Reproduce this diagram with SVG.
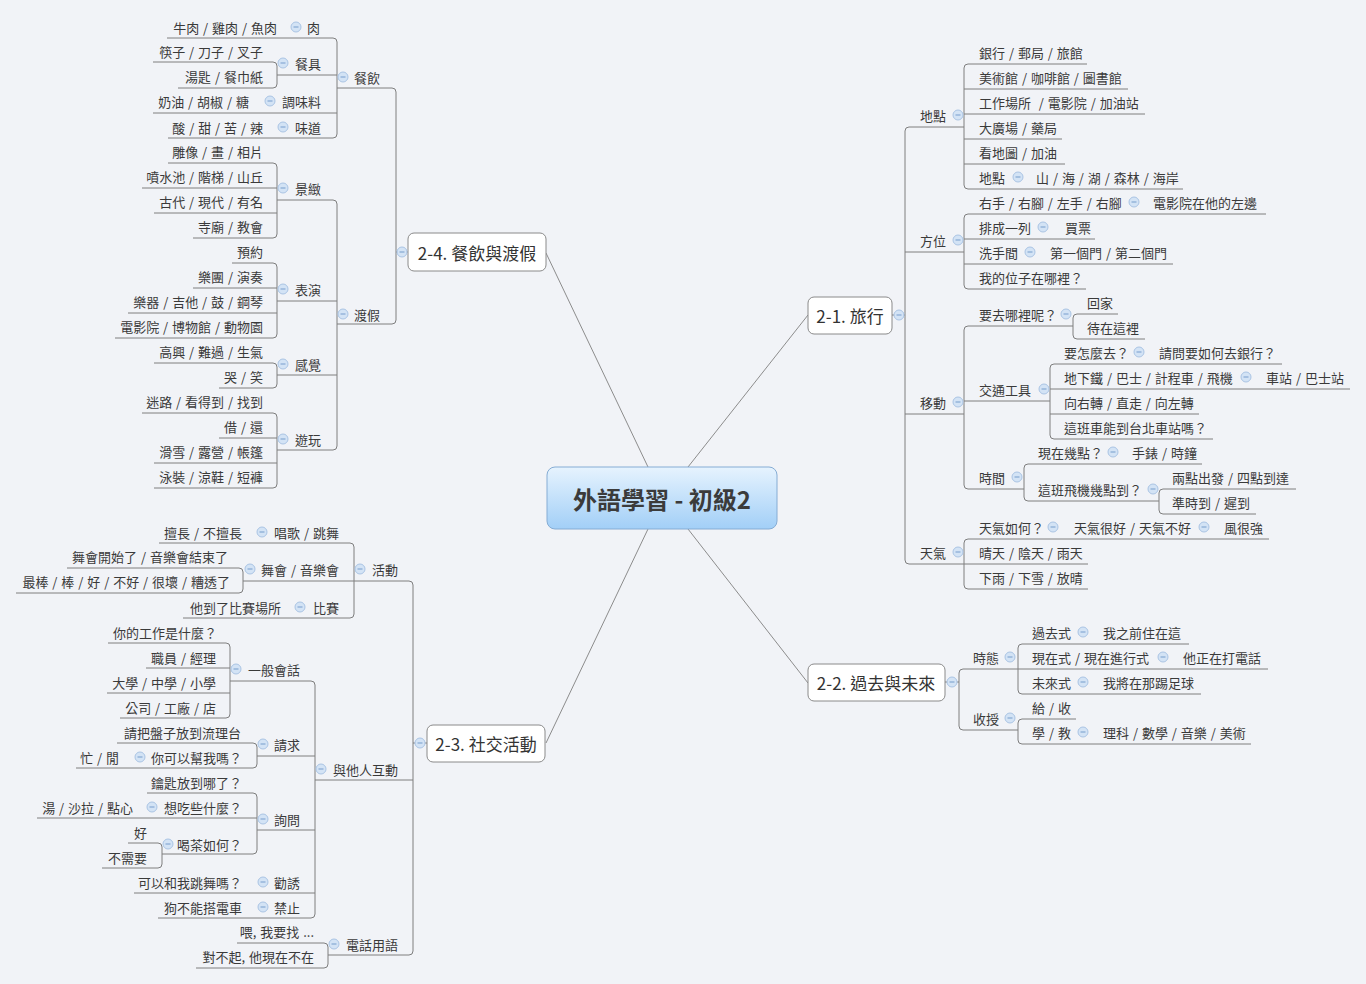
<svg xmlns="http://www.w3.org/2000/svg" xmlns:xlink="http://www.w3.org/1999/xlink" width="1366" height="984" viewBox="0 0 1366 984">
<style>
.t{font-family:"Noto Sans CJK TC","Noto Sans",sans-serif;font-size:13px;fill:#3a3a3a;dominant-baseline:central;word-spacing:1px}
.e{text-anchor:end}
.l1{font-size:17px;text-anchor:middle;fill:#333;word-spacing:0}
.ln{fill:none;stroke:#7e7e7e;stroke-width:1}
.cl{fill:none;stroke:#8c8c8c;stroke-width:1}
.box{fill:#fff;stroke:#8a8a8a;stroke-width:1}
</style>
<defs>
<linearGradient id="cg" x1="0" y1="0" x2="0" y2="1">
<stop offset="0" stop-color="#e6f3fe"/>
<stop offset="1" stop-color="#a2cff7"/>
</linearGradient>
<g id="cb"><circle r="5" fill="#d3e3f5" stroke="#aac4e4" stroke-width="1"/><path d="M-2.5 0H2.5" stroke="#86a8d3" stroke-width="1.2"/></g>
</defs>
<rect width="1366" height="984" fill="#f1f3f7"/>

<g id="connectors">
<path class="cl" d="M648,467L546,253M688,467L808,315M648,529L546,743M688,529L808,683"/>
<path class="ln" d="M964,127H909Q905,127 905,131V560Q905,564 909,564H964M905,252H964M905,414H964M892,315H905"/>
<path class="ln" d="M1087,64H968Q964,64 964,68V185Q964,189 968,189H1183M964,89H1128M964,114H1145M964,139H1062M964,164H1065"/>
<path class="ln" d="M1266,214H968Q964,214 964,218V285Q964,289 968,289H1086M964,239H1095M964,264H1173"/>
<path class="ln" d="M1073,326H968Q964,326 964,330V485Q964,489 968,489H1024M964,401H1050"/>
<path class="ln" d="M1118,314H1077Q1073,314 1073,318V335Q1073,339 1077,339H1145"/>
<path class="ln" d="M1282,364H1054Q1050,364 1050,368V435Q1050,439 1054,439H1213M1050,389H1350M1050,414H1199"/>
<path class="ln" d="M1202,464H1028Q1024,464 1024,468V497Q1024,501 1028,501H1159"/>
<path class="ln" d="M1296,489H1163Q1159,489 1159,493V510Q1159,514 1163,514H1256"/>
<path class="ln" d="M1269,539H968Q964,539 964,543V585Q964,589 968,589H1088M964,564H1088"/>
<path class="ln" d="M945,682H959M1018,669H963Q959,669 959,673V726Q959,730 963,730H1018"/>
<path class="ln" d="M1189,644H1022Q1018,644 1018,648V690Q1018,694 1022,694H1201M1018,669H1268"/>
<path class="ln" d="M1076,719H1022Q1018,719 1018,723V740Q1018,744 1022,744H1251"/>
<path class="ln" d="M408,252H396M337,88H392Q396,88 396,92V320Q396,324 392,324H337"/>
<path class="ln" d="M167,38H333Q337,38 337,42V134Q337,138 333,138H168M337,75H277M337,113H153"/>
<path class="ln" d="M153,62H273Q277,62 277,66V84Q277,88 273,88H178"/>
<path class="ln" d="M277,200H333Q337,200 337,204V446Q337,450 333,450H277M337,301H277M337,375H277"/>
<path class="ln" d="M168,163H273Q277,163 277,167V234Q277,238 273,238H193M277,188H142M277,213H154"/>
<path class="ln" d="M232,263H273Q277,263 277,267V334Q277,338 273,338H115M277,288H193M277,313H128"/>
<path class="ln" d="M154,363H273Q277,363 277,367V384Q277,388 273,388H219"/>
<path class="ln" d="M142,413H273Q277,413 277,417V484Q277,488 273,488H154M277,438H219M277,463H154"/>
<path class="ln" d="M427,743H413M354,581H409Q413,581 413,585V951Q413,955 409,955H328M413,780H315"/>
<path class="ln" d="M159,543H350Q354,543 354,547V614Q354,618 350,618H183M354,581H243"/>
<path class="ln" d="M67,568H239Q243,568 243,572V589Q243,593 239,593H16"/>
<path class="ln" d="M230,681H311Q315,681 315,685V914Q315,918 311,918H158M315,756H257M315,830H257M315,893H134"/>
<path class="ln" d="M108,643H226Q230,643 230,647V714Q230,718 226,718H120M230,668H146M230,693H107"/>
<path class="ln" d="M117,743H253Q257,743 257,747V764Q257,768 253,768H76"/>
<path class="ln" d="M147,793H253Q257,793 257,797V850Q257,854 253,854H162M257,818H37"/>
<path class="ln" d="M128,843H158Q162,843 162,847V864Q162,868 158,868H102"/>
<path class="ln" d="M237,943H324Q328,943 328,947V964Q328,968 324,968H196"/>
</g>

<g id="root">
<rect x="547" y="467" width="230" height="62" rx="8" fill="url(#cg)" stroke="#85acd4"/>
<text class="t" x="662" y="498" text-anchor="middle" style="font-size:24px;font-weight:bold;fill:#3b3b3b;word-spacing:0">外語學習 - 初級2</text>
</g>

<g id="n21"><rect class="box" x="808" y="297" width="84" height="37" rx="6"/><text class="t l1" x="850" y="315">2-1. 旅行</text><use href="#cb" x="899" y="315"/></g>
<g id="n21-a"><text class="t" x="920" y="115">地點</text><use href="#cb" x="958" y="115"/></g>
<g id="n21-a1"><text class="t" x="979" y="52">銀行 / 郵局 / 旅館</text></g>
<g id="n21-a2"><text class="t" x="979" y="77">美術館 / 咖啡館 / 圖書館</text></g>
<g id="n21-a3"><text class="t" x="979" y="102">工作場所&#160; / 電影院 / 加油站</text></g>
<g id="n21-a4"><text class="t" x="979" y="127">大廣場 / 藥局</text></g>
<g id="n21-a5"><text class="t" x="979" y="152">看地圖 / 加油</text></g>
<g id="n21-a6"><text class="t" x="979" y="177">地點</text><use href="#cb" x="1018" y="177"/></g>
<g id="n21-a6a"><text class="t" x="1036" y="177">山 / 海 / 湖 / 森林 / 海岸</text></g>
<g id="n21-b"><text class="t" x="920" y="240">方位</text><use href="#cb" x="958" y="240"/></g>
<g id="n21-b1"><text class="t" x="979" y="202">右手 / 右腳 / 左手 / 右腳</text><use href="#cb" x="1134" y="202"/></g>
<g id="n21-b1a"><text class="t" x="1153" y="202">電影院在他的左邊</text></g>
<g id="n21-b2"><text class="t" x="979" y="227">排成一列</text><use href="#cb" x="1043" y="227"/></g>
<g id="n21-b2a"><text class="t" x="1065" y="227">買票</text></g>
<g id="n21-b3"><text class="t" x="979" y="252">洗手間</text><use href="#cb" x="1030" y="252"/></g>
<g id="n21-b3a"><text class="t" x="1050" y="252">第一個門 / 第二個門</text></g>
<g id="n21-b4"><text class="t" x="979" y="277">我的位子在哪裡？</text></g>
<g id="n21-c"><text class="t" x="920" y="402">移動</text><use href="#cb" x="958" y="402"/></g>
<g id="n21-c1"><text class="t" x="979" y="314">要去哪裡呢？</text><use href="#cb" x="1066" y="314"/></g>
<g id="n21-c1a"><text class="t" x="1087" y="302">回家</text></g>
<g id="n21-c1b"><text class="t" x="1087" y="327">待在這裡</text></g>
<g id="n21-c2"><text class="t" x="979" y="389">交通工具</text><use href="#cb" x="1044" y="389"/></g>
<g id="n21-c2a"><text class="t" x="1064" y="352">要怎麼去？</text><use href="#cb" x="1139" y="352"/></g>
<g id="n21-c2a1"><text class="t" x="1159" y="352">請問要如何去銀行？</text></g>
<g id="n21-c2b"><text class="t" x="1064" y="377">地下鐵 / 巴士 / 計程車 / 飛機</text><use href="#cb" x="1246" y="377"/></g>
<g id="n21-c2b1"><text class="t" x="1266" y="377">車站 / 巴士站</text></g>
<g id="n21-c2c"><text class="t" x="1064" y="402">向右轉 / 直走 / 向左轉</text></g>
<g id="n21-c2d"><text class="t" x="1064" y="427">這班車能到台北車站嗎？</text></g>
<g id="n21-c3"><text class="t" x="979" y="477">時間</text><use href="#cb" x="1017" y="477"/></g>
<g id="n21-c3a"><text class="t" x="1038" y="452">現在幾點？</text><use href="#cb" x="1113" y="452"/></g>
<g id="n21-c3a1"><text class="t" x="1132" y="452">手錶 / 時鐘</text></g>
<g id="n21-c3b"><text class="t" x="1038" y="489">這班飛機幾點到？</text><use href="#cb" x="1153" y="489"/></g>
<g id="n21-c3b1"><text class="t" x="1172" y="477">兩點出發 / 四點到達</text></g>
<g id="n21-c3b2"><text class="t" x="1172" y="502">準時到 / 遲到</text></g>
<g id="n21-d"><text class="t" x="920" y="552">天氣</text><use href="#cb" x="958" y="552"/></g>
<g id="n21-d1"><text class="t" x="979" y="527">天氣如何？</text><use href="#cb" x="1053" y="527"/></g>
<g id="n21-d1a"><text class="t" x="1074" y="527">天氣很好 / 天氣不好</text><use href="#cb" x="1204" y="527"/></g>
<g id="n21-d1a1"><text class="t" x="1224" y="527">風很強</text></g>
<g id="n21-d2"><text class="t" x="979" y="552">晴天 / 陰天 / 雨天</text></g>
<g id="n21-d3"><text class="t" x="979" y="577">下雨 / 下雪 / 放晴</text></g>

<g id="n22"><rect class="box" x="808" y="664" width="137" height="37" rx="6"/><text class="t l1" x="876" y="682">2-2. 過去與未來</text><use href="#cb" x="952" y="682"/></g>
<g id="n22-a"><text class="t" x="973" y="657">時態</text><use href="#cb" x="1010" y="657"/></g>
<g id="n22-a1"><text class="t" x="1032" y="632">過去式</text><use href="#cb" x="1083" y="632"/></g>
<g id="n22-a1a"><text class="t" x="1103" y="632">我之前住在這</text></g>
<g id="n22-a2"><text class="t" x="1032" y="657">現在式 / 現在進行式</text><use href="#cb" x="1163" y="657"/></g>
<g id="n22-a2a"><text class="t" x="1183" y="657">他正在打電話</text></g>
<g id="n22-a3"><text class="t" x="1032" y="682">未來式</text><use href="#cb" x="1083" y="682"/></g>
<g id="n22-a3a"><text class="t" x="1103" y="682">我將在那踢足球</text></g>
<g id="n22-b"><text class="t" x="973" y="718">收授</text><use href="#cb" x="1010" y="718"/></g>
<g id="n22-b1"><text class="t" x="1032" y="707">給 / 收</text></g>
<g id="n22-b2"><text class="t" x="1032" y="732">學 / 教</text><use href="#cb" x="1083" y="732"/></g>
<g id="n22-b2a"><text class="t" x="1103" y="732">理科 / 數學 / 音樂 / 美術</text></g>

<g id="n24"><rect class="box" x="408" y="233" width="138" height="38" rx="6"/><text class="t l1" x="477" y="252">2-4. 餐飲與渡假</text><use href="#cb" x="402" y="252"/></g>
<g id="n24-a"><text class="t e" x="380" y="77">餐飲</text><use href="#cb" x="343" y="77"/></g>
<g id="n24-a1"><text class="t e" x="320" y="27">肉</text><use href="#cb" x="296" y="27"/></g>
<g id="n24-a1a"><text class="t e" x="277" y="27">牛肉 / 雞肉 / 魚肉</text></g>
<g id="n24-a2"><text class="t e" x="321" y="63">餐具</text><use href="#cb" x="283" y="63"/></g>
<g id="n24-a2a"><text class="t e" x="263" y="51">筷子 / 刀子 / 叉子</text></g>
<g id="n24-a2b"><text class="t e" x="263" y="76">湯匙 / 餐巾紙</text></g>
<g id="n24-a3"><text class="t e" x="321" y="101">調味料</text><use href="#cb" x="270" y="101"/></g>
<g id="n24-a3a"><text class="t e" x="249" y="101">奶油 / 胡椒 / 糖</text></g>
<g id="n24-a4"><text class="t e" x="321" y="127">味道</text><use href="#cb" x="283" y="127"/></g>
<g id="n24-a4a"><text class="t e" x="263" y="127">酸 / 甜 / 苦 / 辣</text></g>
<g id="n24-b"><text class="t e" x="380" y="314">渡假</text><use href="#cb" x="343" y="314"/></g>
<g id="n24-b1"><text class="t e" x="321" y="188">景緻</text><use href="#cb" x="283" y="188"/></g>
<g id="n24-b1a"><text class="t e" x="263" y="151">雕像 / 畫 / 相片</text></g>
<g id="n24-b1b"><text class="t e" x="263" y="176">噴水池 / 階梯 / 山丘</text></g>
<g id="n24-b1c"><text class="t e" x="263" y="201">古代 / 現代 / 有名</text></g>
<g id="n24-b1d"><text class="t e" x="263" y="226">寺廟 / 教會</text></g>
<g id="n24-b2"><text class="t e" x="321" y="289">表演</text><use href="#cb" x="283" y="289"/></g>
<g id="n24-b2a"><text class="t e" x="263" y="251">預約</text></g>
<g id="n24-b2b"><text class="t e" x="263" y="276">樂團 / 演奏</text></g>
<g id="n24-b2c"><text class="t e" x="263" y="301">樂器 / 吉他 / 鼓 / 鋼琴</text></g>
<g id="n24-b2d"><text class="t e" x="263" y="326">電影院 / 博物館 / 動物園</text></g>
<g id="n24-b3"><text class="t e" x="321" y="364">感覺</text><use href="#cb" x="283" y="364"/></g>
<g id="n24-b3a"><text class="t e" x="263" y="351">高興 / 難過 / 生氣</text></g>
<g id="n24-b3b"><text class="t e" x="263" y="376">哭 / 笑</text></g>
<g id="n24-b4"><text class="t e" x="321" y="439">遊玩</text><use href="#cb" x="283" y="439"/></g>
<g id="n24-b4a"><text class="t e" x="263" y="401">迷路 / 看得到 / 找到</text></g>
<g id="n24-b4b"><text class="t e" x="263" y="426">借 / 還</text></g>
<g id="n24-b4c"><text class="t e" x="263" y="451">滑雪 / 露營 / 帳篷</text></g>
<g id="n24-b4d"><text class="t e" x="263" y="476">泳裝 / 涼鞋 / 短褲</text></g>

<g id="n23"><rect class="box" x="427" y="725" width="118" height="37" rx="6"/><text class="t l1" x="486" y="743">2-3. 社交活動</text><use href="#cb" x="420" y="743"/></g>
<g id="n23-a"><text class="t e" x="398" y="569">活動</text><use href="#cb" x="360" y="569"/></g>
<g id="n23-a1"><text class="t e" x="339" y="532">唱歌 / 跳舞</text><use href="#cb" x="262" y="532"/></g>
<g id="n23-a1a"><text class="t e" x="242" y="532">擅長 / 不擅長</text></g>
<g id="n23-a2"><text class="t e" x="339" y="569">舞會 / 音樂會</text><use href="#cb" x="250" y="569"/></g>
<g id="n23-a2a"><text class="t e" x="228" y="556">舞會開始了 / 音樂會結束了</text></g>
<g id="n23-a2b"><text class="t e" x="230" y="581">最棒 / 棒 / 好 / 不好 / 很壞 / 糟透了</text></g>
<g id="n23-a3"><text class="t e" x="339" y="607">比賽</text><use href="#cb" x="300" y="607"/></g>
<g id="n23-a3a"><text class="t e" x="281" y="607">他到了比賽場所</text></g>
<g id="n23-b"><text class="t e" x="398" y="769">與他人互動</text><use href="#cb" x="321" y="769"/></g>
<g id="n23-b1"><text class="t e" x="300" y="669">一般會話</text><use href="#cb" x="236" y="669"/></g>
<g id="n23-b1a"><text class="t e" x="217" y="632">你的工作是什麼？</text></g>
<g id="n23-b1b"><text class="t e" x="216" y="657">職員 / 經理</text></g>
<g id="n23-b1c"><text class="t e" x="216" y="682">大學 / 中學 / 小學</text></g>
<g id="n23-b1d"><text class="t e" x="216" y="707">公司 / 工廠 / 店</text></g>
<g id="n23-b2"><text class="t e" x="300" y="744">請求</text><use href="#cb" x="263" y="744"/></g>
<g id="n23-b2a"><text class="t e" x="241" y="732">請把盤子放到流理台</text></g>
<g id="n23-b2b"><text class="t e" x="242" y="757">你可以幫我嗎？</text><use href="#cb" x="140" y="757"/></g>
<g id="n23-b2b1"><text class="t e" x="119" y="757">忙 / 閒</text></g>
<g id="n23-b3"><text class="t e" x="300" y="819">詢問</text><use href="#cb" x="263" y="819"/></g>
<g id="n23-b3a"><text class="t e" x="242" y="782">鑰匙放到哪了？</text></g>
<g id="n23-b3b"><text class="t e" x="242" y="807">想吃些什麼？</text><use href="#cb" x="152" y="807"/></g>
<g id="n23-b3b1"><text class="t e" x="133" y="807">湯 / 沙拉 / 點心</text></g>
<g id="n23-b3c"><text class="t e" x="242" y="844">喝茶如何？</text><use href="#cb" x="168" y="844"/></g>
<g id="n23-b3c1"><text class="t e" x="147" y="832">好</text></g>
<g id="n23-b3c2"><text class="t e" x="147" y="857">不需要</text></g>
<g id="n23-b4"><text class="t e" x="300" y="882">勸誘</text><use href="#cb" x="263" y="882"/></g>
<g id="n23-b4a"><text class="t e" x="242" y="882">可以和我跳舞嗎？</text></g>
<g id="n23-b5"><text class="t e" x="300" y="907">禁止</text><use href="#cb" x="263" y="907"/></g>
<g id="n23-b5a"><text class="t e" x="242" y="907">狗不能搭電車</text></g>
<g id="n23-c"><text class="t e" x="398" y="944">電話用語</text><use href="#cb" x="334" y="944"/></g>
<g id="n23-c1"><text class="t e" x="314" y="931">喂, 我要找 ...</text></g>
<g id="n23-c2"><text class="t e" x="314" y="956">對不起, 他現在不在</text></g>
</svg>
